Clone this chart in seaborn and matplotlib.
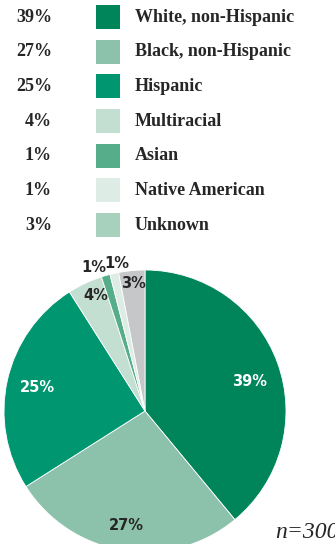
import matplotlib
matplotlib.use("Agg")
import matplotlib.pyplot as plt
import seaborn as sns
import numpy as np

categories = ["White, non-Hispanic", "Black, non-Hispanic", "Hispanic",
              "Multiracial", "Asian", "Native American", "Unknown"]
values = [39, 27, 25, 4, 1, 1, 3]
pct_labels = ["39%", "27%", "25%", "4%", "1%", "1%", "3%"]
legend_colors = ["#00845a", "#8cc1ab", "#009670", "#c2dfd2", "#55ad8a", "#ddece5", "#a8d1bd"]
pie_colors = ["#00845a", "#8cc1ab", "#009670", "#c2dfd2", "#55ad8a", "#ddece5", "#c6c7c9"]
note = "n=300"

sns.set_theme(style="white")
plt.rcParams['font.family'] = ['DejaVu Sans']

W, H = 335, 544
fig = plt.figure(figsize=(W / 100, H / 100), dpi=100)
ax = fig.add_axes([0, 0, 1, 1])
ax.set_xlim(0, W)
ax.set_ylim(0, H)
ax.set_aspect('equal')
ax.axis('off')

# legend
row0, step = 17, 34.67
text_col = "#262626"
for i, (cat, pct, col) in enumerate(zip(categories, pct_labels, legend_colors)):
    y = H - (row0 + step * i)
    ax.text(52, y, pct, ha='right', va='center', fontsize=13, fontweight='bold',
            family='Liberation Serif', color=text_col)
    ax.scatter([108], [y], marker='s', s=300, color=col, linewidths=0)
    ax.text(135, y, cat, ha='left', va='center', fontsize=13, fontweight='bold',
            family='Liberation Serif', color=text_col)

# pie
cx, cy, r = 145, H - 411, 141
wedges, _ = ax.pie(values, colors=pie_colors, startangle=90, counterclock=False,
                   center=(cx, cy), radius=r, frame=True,
                   wedgeprops=dict(edgecolor='white', linewidth=0.6))
ax.set_xlim(0, W)
ax.set_ylim(0, H)
ax.axis('off')

label_pos = [(250, 382), (126, 526), (37, 388), (96, 296), (94, 267), (117, 263), (133, 284)]
label_cols = ["white", text_col, "white", text_col, text_col, text_col, text_col]
for (x, y), t, c in zip(label_pos, pct_labels, label_cols):
    ax.text(x, H - y, t, ha='center', va='center', fontsize=10.5, fontweight='semibold',
            color=c)

ax.text(275, H - 533, note, ha='left', va='center', fontsize=17, style='italic',
        family='Liberation Serif', color=text_col)

fig.savefig("out.png", dpi=100)
